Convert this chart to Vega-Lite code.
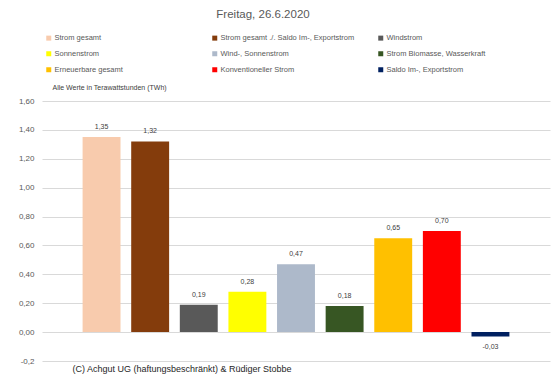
{
  "$schema": "https://vega.github.io/schema/vega-lite/v6.json",
  "width": 508,
  "height": 260,
  "autosize": {"type": "none"},
  "padding": {"left": 42, "top": 101, "right": 1, "bottom": 19},
  "background": "white",
  "config": {
    "locale": {"number": {"decimal": ",", "thousands": ".", "grouping": [3], "currency": ["", " €"], "minus": "-"}},
    "font": "Liberation Sans",
    "view": {"stroke": null}
  },
  "title": {"text": "Freitag, 26.6.2020", "fontSize": 11.5, "font": "Liberation Sans", "fontWeight": "normal", "color": "#595959", "anchor": "middle", "frame": "group", "dx": -33, "offset": 14},
  "data": {"values": [
    {"kategorie": "Strom gesamt", "wert": 1.35},
    {"kategorie": "Strom gesamt ./. Saldo Im-, Exportstrom", "wert": 1.32},
    {"kategorie": "Windstrom", "wert": 0.19},
    {"kategorie": "Sonnenstrom", "wert": 0.28},
    {"kategorie": "Wind-, Sonnenstrom", "wert": 0.47},
    {"kategorie": "Strom Biomasse, Wasserkraft", "wert": 0.18},
    {"kategorie": "Erneuerbare gesamt", "wert": 0.65},
    {"kategorie": "Konventioneller Strom", "wert": 0.70},
    {"kategorie": "Saldo Im-, Exportstrom", "wert": -0.03}
  ]},
  "encoding": {
    "x": {"field": "kategorie", "type": "nominal", "sort": null,
      "scale": {"paddingInner": 0.22, "paddingOuter": 0.835},
      "axis": {"labels": false, "ticks": false, "domain": false, "grid": false,
        "title": "(C) Achgut UG (haftungsbeschränkt) & Rüdiger Stobbe",
        "titleX": 30, "titleY": 7, "titleAlign": "left", "titleBaseline": "middle",
        "titleFontSize": 9, "titleFontWeight": "normal", "titleColor": "#262626", "titleFont": "Liberation Sans"}},
    "y": {"field": "wert", "type": "quantitative",
      "scale": {"domain": [-0.2, 1.6], "nice": false, "zero": false},
      "axis": {"values": [-0.2, 0, 0.2, 0.4, 0.6, 0.8, 1.0, 1.2, 1.4, 1.6],
        "labelExpr": "datum.value < -0.1 ? '-0,2' : replace(format(datum.value, '.2f'), '.', ',')",
        "grid": true, "gridColor": "#d9d9d9", "domain": false, "ticks": false,
        "labelFontSize": 8, "labelColor": "#595959", "labelPadding": 8, "labelFont": "Liberation Sans",
        "title": "Alle Werte in Terawattstunden (TWh)", "titleAngle": 0, "titleAlign": "left",
        "titleX": 10, "titleY": -14, "titleBaseline": "middle", "titleFontSize": 7, "titleFontWeight": "normal",
        "titleColor": "#404040", "titleFont": "Liberation Sans"}}
  },
  "layer": [
    {"mark": {"type": "bar"},
      "encoding": {
        "color": {"field": "kategorie", "type": "nominal", "sort": null,
          "scale": {
            "domain": ["Strom gesamt", "Sonnenstrom", "Erneuerbare gesamt", "Strom gesamt ./. Saldo Im-, Exportstrom", "Wind-, Sonnenstrom", "Konventioneller Strom", "Windstrom", "Strom Biomasse, Wasserkraft", "Saldo Im-, Exportstrom"],
            "range": ["#F8CBAD", "#FFFF00", "#FFC000", "#843C0C", "#ADB9CA", "#FF0000", "#595959", "#375623", "#002060"]},
          "legend": {"orient": "none", "legendX": 3, "legendY": -67, "columns": 3, "gridAlign": "all",
            "columnPadding": 22, "rowPadding": 7, "symbolType": "square", "symbolSize": 25, "symbolStrokeWidth": 0,
            "labelFontSize": 7.5, "labelColor": "#595959", "labelOffset": 2, "labelFont": "Liberation Sans", "title": null, "labelLimit": 300}},
        "y2": {"datum": 0}
      }},
    {"transform": [{"filter": "datum.wert >= 0"}],
      "mark": {"type": "text", "dy": -10, "fontSize": 7, "color": "#404040", "baseline": "middle"},
      "encoding": {"text": {"field": "wert", "type": "quantitative", "format": ".2f"}}},
    {"transform": [{"filter": "datum.wert < 0"}],
      "mark": {"type": "text", "dy": 11, "fontSize": 7, "color": "#404040", "baseline": "middle"},
      "encoding": {"text": {"field": "wert", "type": "quantitative", "format": ".2f"}}}
  ]
}
